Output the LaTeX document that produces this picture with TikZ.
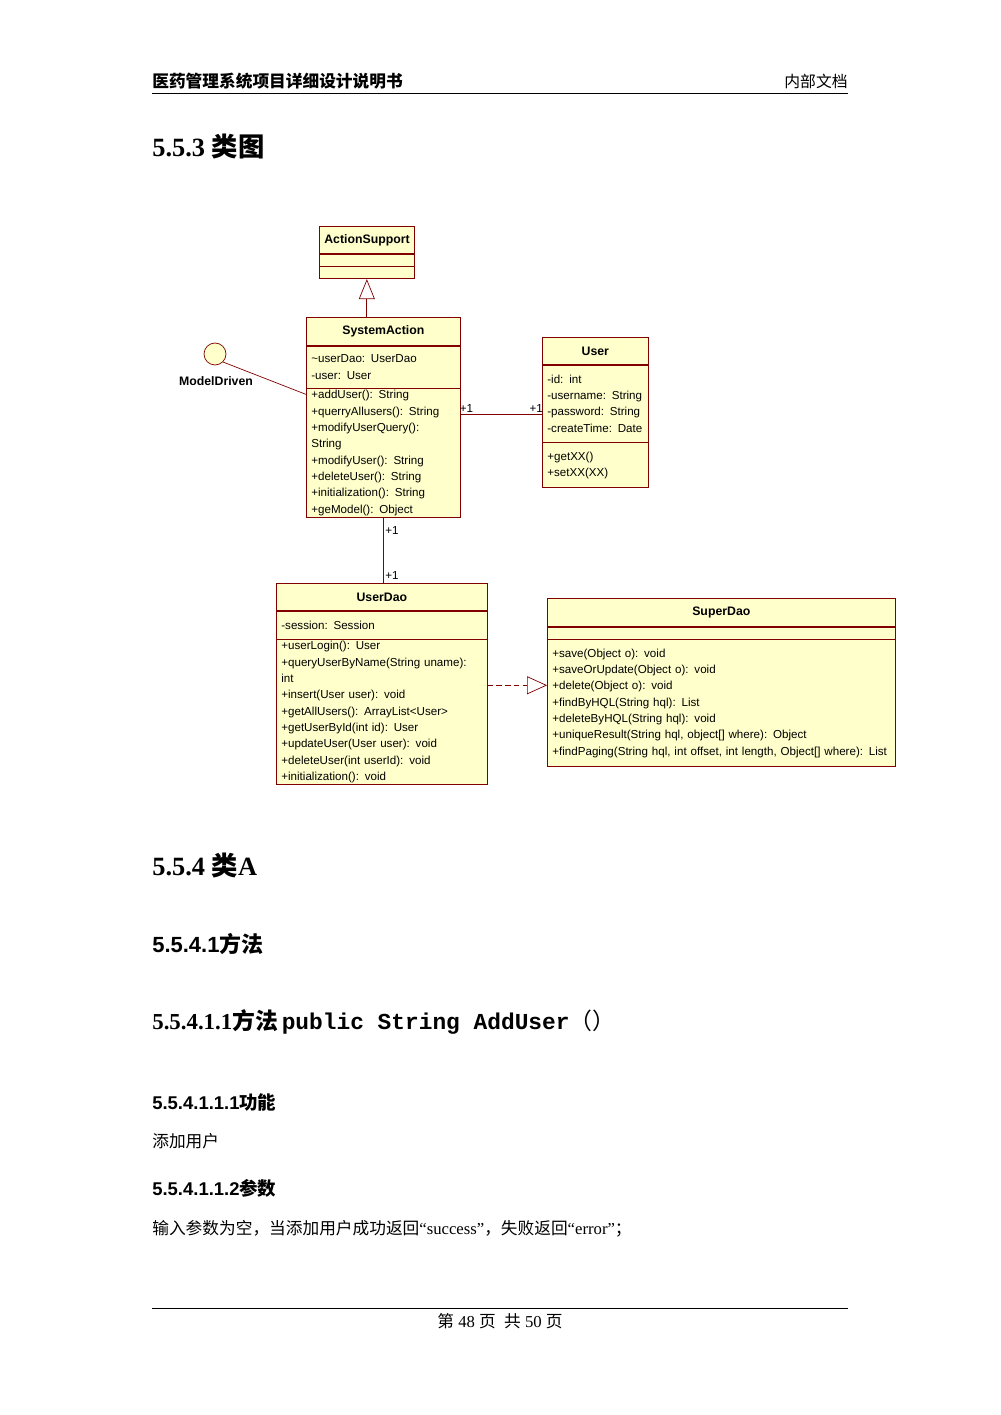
\documentclass[tikz,border=0pt]{standalone}
\usepackage{fontspec}
\setmainfont{Liberation Serif}
\setmonofont{Liberation Mono}
\newfontfamily\uml{Liberation Sans}
\newfontfamily\cjk{Noto Sans CJK SC}
\usetikzlibrary{positioning}
\usetikzlibrary{arrows.meta}
\definecolor{umlfill}{RGB}{255,255,204}
\definecolor{umlline}{RGB}{128,0,0}

\begin{document}
\begin{tikzpicture}[
        x=0.02cm, y=-0.02cm,
        cls/.style={draw=umlline, fill=umlfill, inner xsep=0.1cm, inner ysep=1pt, anchor=north west,
            font=\uml\fontsize{6.6}{9.3}\selectfont, align=left},
        title/.style={cls, align=center, font=\uml\bfseries\fontsize{7}{9}\selectfont},
        below0/.style={below=0pt of #1.south west, anchor=north west},
        txt/.style={anchor=base west, inner sep=0},
        mult/.style={font=\uml\fontsize{6.6}{8}\selectfont, inner sep=1pt},
        link/.style={draw=umlline, thin},
        >=stealth
    ]
        \useasboundingbox (0,0) rectangle (1000,1415);

        % page header and footer
        \node[txt] (head) at (152,88) {\cjk\bfseries\fontsize{9.5}{11}\selectfont 医药管理系统项目详细设计说明书};
        \node[anchor=base east, inner sep=0] (inner) at (848,88) {\cjk\fontsize{9}{11}\selectfont 内部文档};
        \coordinate (hl) at (152,93);
        \coordinate (hr) at (848,93);
        \draw[thin] (hl) -- (hr);
        \coordinate (fl) at (152,1308);
        \coordinate (fr) at (848,1308);
        \draw[thin] (fl) -- (fr);
        \node[anchor=base, inner sep=0] (foot) at (500,1327) {\fontsize{9.5}{11}\selectfont{\cjk 第}\ 48\ {\cjk 页}\ \ {\cjk 共}\ 50\ {\cjk 页}};

        % headings
        \node[txt] (h553) at (152,157) {\bfseries\fontsize{15}{18}\selectfont 5.5.3 {\cjk 类图}};
        \node[txt] (h554) at (152,875) {\bfseries\fontsize{15}{18}\selectfont 5.5.4 {\cjk 类}A};
        \node[txt] (h5541) at (152,952) {\uml\bfseries\fontsize{12.5}{15}\selectfont 5.5.4.1{\cjk 方法}};
        \node[txt] (h55411) at (152,1029) {\bfseries\fontsize{13}{16}\selectfont 5.5.4.1.1{\cjk 方法}\,\ttfamily public String AddUser{\cjk\mdseries （）}};
        \node[txt] (h554111) at (152,1109) {\uml\bfseries\fontsize{10.5}{13}\selectfont 5.5.4.1.1.1{\cjk 功能}};
        \node[txt] (p1) at (152,1147) {\cjk\fontsize{9.5}{12}\selectfont 添加用户};
        \node[txt] (h554112) at (152,1195) {\uml\bfseries\fontsize{10.5}{13}\selectfont 5.5.4.1.1.2{\cjk 参数}};
        \node[txt] (p2) at (152,1234) {\fontsize{9.5}{12}\selectfont{\cjk 输入参数为空，当添加用户成功返回}“success”{\cjk ，失败返回}“error”{\cjk ；}};

        % ActionSupport
        \node[title, text width=1.7cm, minimum height=0.54cm] (as-name) at (319,226) {ActionSupport};
        \node[cls, text width=1.7cm, minimum height=0.24cm, below0=as-name] (as-attr) {};
        \node[cls, text width=1.7cm, minimum height=0.24cm, below0=as-attr] (as-op) {};

        % SystemAction
        \node[title, text width=2.88cm, minimum height=0.56cm] (sa-name) at (306,317) {SystemAction};
        \node[cls, text width=2.88cm, minimum height=0.84cm, below0=sa-name] (sa-attr) {\textasciitilde userDao: UserDao\\-user: User};
        \node[cls, text width=2.88cm, minimum height=2.56cm, below0=sa-attr] (sa-ops) {+addUser(): String\\+querryAllusers(): String\\+modifyUserQuery(): String\\+modifyUser(): String\\+deleteUser(): String\\+initialization(): String\\+geModel(): Object};

        % ModelDriven interface
        \node[circle, draw=umlline, fill=umlfill, minimum size=0.44cm, inner sep=0] (md) at (215,354) {};
        \node[font=\uml\bfseries\fontsize{7}{9}\selectfont, inner sep=0] (md-label) at (216,381) {ModelDriven};

        % User
        \node[title, text width=1.92cm, minimum height=0.54cm] (u-name) at (542,337) {User};
        \node[cls, text width=1.92cm, minimum height=1.54cm, below0=u-name] (u-attr) {-id: int\\-username: String\\-password: String\\-createTime: Date};
        \node[cls, text width=1.92cm, minimum height=0.9cm, below0=u-attr] (u-ops) {+getXX()\\+setXX(XX)};

        % UserDao
        \node[title, text width=4.02cm, minimum height=0.54cm] (ud-name) at (276,583) {UserDao};
        \node[cls, text width=4.02cm, minimum height=0.56cm, below0=ud-name] (ud-attr) {-session: Session};
        \node[cls, text width=4.02cm, minimum height=2.88cm, below0=ud-attr] (ud-ops) {+userLogin(): User\\+queryUserByName(String uname): int\\+insert(User user): void\\+getAllUsers(): ArrayList<User>\\+getUserById(int id): User\\+updateUser(User user): void\\+deleteUser(int userId): void\\+initialization(): void};

        % SuperDao
        \node[title, text width=6.76cm, minimum height=0.56cm] (sd-name) at (547,598) {SuperDao};
        \node[cls, text width=6.76cm, minimum height=0.24cm, below0=sd-name] (sd-attr) {};
        \node[cls, text width=6.76cm, minimum height=2.54cm, below0=sd-attr] (sd-ops) {+save(Object o): void\\+saveOrUpdate(Object o): void\\+delete(Object o): void\\+findByHQL(String hql): List\\+deleteByHQL(String hql): void\\+uniqueResult(String hql, object[] where): Object\\+findPaging(String hql, int offset, int length, Object[] where): List};

        % connectors
        \draw[link, -{Triangle[open, length=0.4cm, width=0.32cm]}] (as-op.south |- sa-name.north) -- (as-op.south);
        \draw[link] (md.south east) -- ([yshift=-0.12cm]sa-ops.north west);
        \coordinate (u1) at ([yshift=-0.22cm]u-attr.west);
        \draw[link] (sa-ops.east |- u1) -- node[mult, pos=0.07, above] {+1} node[mult, pos=0.93, above] {+1} (u1);
        \draw[link] (sa-ops.south) -- node[mult, pos=0.2, right] {+1} node[mult, pos=0.88, right] {+1} (sa-ops.south |- ud-name.north);
        \coordinate (r1) at ([yshift=0.54cm]ud-ops.east);
        \draw[link, densely dashed, -{Triangle[open, length=0.4cm, width=0.36cm]}] (r1) -- (r1 -| sd-ops.west);

    \end{tikzpicture}
\end{document}
